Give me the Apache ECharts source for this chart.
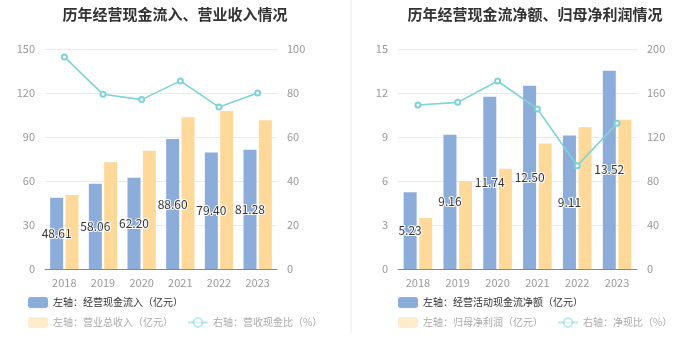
<!DOCTYPE html>
<html><head><meta charset="utf-8">
<script src="https://cdn.jsdelivr.net/npm/echarts@6/dist/echarts.min.js"></script>
<style>html,body{margin:0;padding:0;background:#fff}#c{width:700px;height:360px}</style>
</head><body><div id="c"></div>
<script>
const years = ['2018','2019','2020','2021','2022','2023'];
// Left chart
const cashInflow = [48.61, 58.06, 62.20, 88.60, 79.40, 81.28];
const revenue = [50.5, 72.7, 80.7, 103.4, 107.7, 101.4];
const cashRatio = [96.4, 79.4, 77.0, 85.5, 73.6, 80.0];
// Right chart
const netCashFlow = [5.23, 9.16, 11.74, 12.50, 9.11, 13.52];
const netProfit = [3.48, 6.0, 6.84, 8.55, 9.66, 10.18];
const netCashRatio = [149.1, 151.5, 170.9, 145.5, 93.9, 132.4];
const leftTicks1 = {min:0, max:150, interval:30};
const rightTicks1 = {min:0, max:100, interval:20};
const leftTicks2 = {min:0, max:15, interval:3};
const rightTicks2 = {min:0, max:200, interval:40};

const BLUE = '#8CACD9', YELLOW = '#FFD99A', CYAN = '#7ED3D6';
const FONT = '"Noto Sans CJK SC", sans-serif';
const chart = echarts.init(document.getElementById('c'));

function xAxis(gi){
  return {type:'category', gridIndex:gi, data:years,
    axisLine:{lineStyle:{color:'#888'}}, axisTick:{alignWithLabel:true, lineStyle:{color:'#888'}},
    axisLabel:{color:'#999', fontSize:11, margin:8, fontFamily:FONT}};
}
function yAxis(gi, t, pos, showSplit){
  return {type:'value', gridIndex:gi, position:pos, min:t.min, max:t.max, interval:t.interval,
    axisLine:{show:false}, axisTick:{show:false},
    axisLabel:{color:'#999', fontSize:11, margin:10, fontFamily:FONT},
    splitLine:{show:showSplit, lineStyle:{color:'#E6EAF3'}}};
}
const label = {show:true, position:'inside', color:'#333', fontSize:12, fontFamily:FONT,
  textBorderColor:'#fff', textBorderWidth:2, formatter: p => p.value.toFixed(2)};

function legends(left, names){
  return [
    {left:left, top:292, itemWidth:20, itemHeight:11, itemGap:14,
     textStyle:{color:'#333', fontSize:10, fontFamily:FONT}, selectedMode:false,
     data:[{name:names[0]}]},
    {left:left, top:312, itemWidth:20, itemHeight:11, itemGap:14,
     textStyle:{color:'#aaa', fontSize:10, fontFamily:FONT}, selectedMode:false,
     data:[{name:names[1], itemStyle:{opacity:0.5}},
           {name:names[2], itemStyle:{opacity:0.5}, lineStyle:{opacity:0.5}}]}
  ];
}
const n1 = ['左轴：经营现金流入（亿元）','左轴：营业总收入（亿元）','右轴：营收现金比（%）'];
const n2 = ['左轴：经营活动现金流净额（亿元）','左轴：归母净利润（亿元）','右轴：净现比（%）'];

chart.setOption({
  animation:false,
  color:[BLUE, YELLOW, CYAN],
  title:[
    {text:'历年经营现金流入、营业收入情况', left:170, top:2, textAlign:'center',
     textStyle:{fontSize:15, fontWeight:'bold', color:'#333', fontFamily:FONT}},
    {text:'历年经营现金流净额、归母净利润情况', left:530, top:2, textAlign:'center',
     textStyle:{fontSize:15, fontWeight:'bold', color:'#333', fontFamily:FONT}}
  ],
  graphic:[{type:'rect', shape:{x:350, y:0, width:2, height:333}, style:{fill:'#F3F3F3'}, silent:true}],
  legend: legends(23, n1).concat(legends(393, n2)),
  grid:[
    {left:45, top:49, width:232, height:220},
    {left:398, top:49, width:239, height:220}
  ],
  xAxis:[xAxis(0), xAxis(1)],
  yAxis:[yAxis(0, leftTicks1, 'left', true), yAxis(0, rightTicks1, 'right', false),
         yAxis(1, leftTicks2, 'left', true), yAxis(1, rightTicks2, 'right', false)],
  series:[
    {name:n1[0], type:'bar', xAxisIndex:0, yAxisIndex:0, data:cashInflow, barWidth:13, barGap:'18%',
     itemStyle:{color:BLUE}, label:label, z:3},
    {name:n1[1], type:'bar', xAxisIndex:0, yAxisIndex:0, data:revenue, barWidth:13, barGap:'18%',
     itemStyle:{color:YELLOW}},
    {name:n1[2], type:'line', xAxisIndex:0, yAxisIndex:1, data:cashRatio, symbol:'emptyCircle', symbolSize:5,
     itemStyle:{color:CYAN}, lineStyle:{color:CYAN, width:1.6}, z:4},
    {name:n2[0], type:'bar', xAxisIndex:1, yAxisIndex:2, data:netCashFlow, barWidth:13, barGap:'20%',
     itemStyle:{color:BLUE}, label:label, z:3},
    {name:n2[1], type:'bar', xAxisIndex:1, yAxisIndex:2, data:netProfit, barWidth:13, barGap:'20%',
     itemStyle:{color:YELLOW}},
    {name:n2[2], type:'line', xAxisIndex:1, yAxisIndex:3, data:netCashRatio, symbol:'emptyCircle', symbolSize:5,
     itemStyle:{color:CYAN}, lineStyle:{color:CYAN, width:1.6}, z:4}
  ]
});
</script></body></html>
